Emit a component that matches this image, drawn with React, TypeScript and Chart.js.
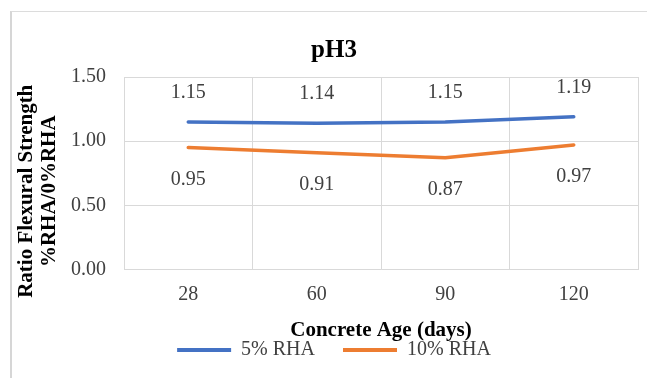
import React, { useEffect, useRef } from "react";
import { Chart, registerables } from "chart.js";

Chart.register(...registerables);

const ages = ["28", "60", "90", "120"];
const rha5 = [1.15, 1.14, 1.15, 1.19];
const rha10 = [0.95, 0.91, 0.87, 0.97];
const yTitleLines = ["Ratio Flexural Strength", "%RHA/0%RHA"];

const SERIF = "'Liberation Serif', 'Times New Roman', serif";
const TEXT = "#404040";
const GRID = "#d9d9d9";

// Value labels: first series above its line, second series below.
const valueLabels = {
  id: "valueLabels",
  afterDatasetsDraw(chart: any) {
    const ctx = chart.ctx;
    ctx.save();
    ctx.font = `20px ${SERIF}`;
    ctx.fillStyle = TEXT;
    ctx.textAlign = "center";
    ctx.textBaseline = "middle";
    chart.data.datasets.forEach((ds: any, di: number) => {
      const meta = chart.getDatasetMeta(di);
      meta.data.forEach((pt: any, i: number) => {
        const dy = di === 0 ? -29 : 32;
        ctx.fillText(Number(ds.data[i]).toFixed(2), pt.x, pt.y + dy);
      });
    });
    ctx.restore();
  },
};

// Two-line rotated title for the value axis.
const yAxisTitle = {
  id: "yAxisTitle",
  afterDraw(chart: any) {
    const ctx = chart.ctx;
    const area = chart.chartArea;
    const yScale = chart.scales.y;
    const cy = (area.top + area.bottom) / 2 + 18;
    ctx.save();
    ctx.font = `bold 21px ${SERIF}`;
    ctx.fillStyle = "#000";
    ctx.textAlign = "center";
    ctx.textBaseline = "middle";
    yTitleLines.forEach((line, i) => {
      ctx.save();
      ctx.translate(yScale.left - 3 + i * 23, cy);
      ctx.rotate(-Math.PI / 2);
      ctx.fillText(line, 0, 0);
      ctx.restore();
    });
    ctx.restore();
  },
};

export default function App() {
  const ref = useRef<HTMLCanvasElement>(null);

  useEffect(() => {
    if (!ref.current) return;
    Chart.defaults.font.family = SERIF;
    const chart = new Chart(ref.current, {
      type: "line",
      data: {
        labels: ages,
        datasets: [
          {
            label: "5% RHA",
            data: rha5,
            borderColor: "#4472C4",
            backgroundColor: "#4472C4",
            borderWidth: 3.5,
            pointRadius: 0,
            borderCapStyle: "round",
            borderJoinStyle: "round",
          },
          {
            label: "10% RHA",
            data: rha10,
            borderColor: "#ED7D31",
            backgroundColor: "#ED7D31",
            borderWidth: 3.5,
            pointRadius: 0,
            borderCapStyle: "round",
            borderJoinStyle: "round",
          },
        ],
      },
      options: {
        responsive: false,
        animation: false,
        layout: { padding: { left: 30, right: 9, top: 0, bottom: 8 } },
        plugins: {
          title: {
            display: true,
            text: "pH3",
            color: "#000",
            font: { size: 25, weight: "bold", lineHeight: 1.2 },
            padding: { top: 36, bottom: 11 },
          },
          legend: {
            position: "bottom",
            labels: {
              color: TEXT,
              font: { size: 20 },
              boxWidth: 54,
              boxHeight: 4,
              padding: 28,
              generateLabels(chart: any) {
                return chart.data.datasets.map((ds: any, i: number) => ({
                  text: ds.label,
                  fillStyle: ds.borderColor,
                  strokeStyle: ds.borderColor,
                  lineWidth: 0,
                  hidden: false,
                  datasetIndex: i,
                  fontColor: TEXT,
                }));
              },
            },
          },
          tooltip: { enabled: false },
        },
        scales: {
          x: {
            offset: true,
            grid: { offset: true, color: GRID, lineWidth: 1, drawTicks: false },
            border: { color: GRID, width: 1 },
            ticks: { color: TEXT, font: { size: 20 }, padding: 13.5 },
            title: {
              display: true,
              text: "Concrete Age (days)",
              color: "#000",
              font: { size: 21, weight: "bold", lineHeight: 1 },
              padding: { top: -0.5, bottom: -29 },
            },
          },
          y: {
            min: 0,
            max: 1.5,
            afterFit(scale: any) {
              scale.width = 94;
            },
            grid: { color: GRID, lineWidth: 1, drawTicks: false },
            border: { color: GRID, width: 1 },
            ticks: {
              stepSize: 0.5,
              color: TEXT,
              font: { size: 20 },
              padding: 18,
              callback: (v: any) => Number(v).toFixed(2),
            },
          },
        },
      },
      plugins: [valueLabels, yAxisTitle],
    });
    return () => chart.destroy();
  }, []);

  return (
    <div
      style={{
        position: "fixed",
        left: 0,
        top: 0,
        width: 647,
        height: 378,
        background: "#fff",
        overflow: "hidden",
      }}
    >
      <div
        style={{
          position: "absolute",
          left: 10,
          top: 11,
          width: 660,
          height: 400,
          borderTop: "1px solid #dcdcdc",
          borderLeft: "2px solid #d6d6d6",
        }}
      />
      <canvas
        ref={ref}
        width={647}
        height={378}
        style={{ position: "absolute", left: 0, top: 0, display: "block" }}
      />
    </div>
  );
}
